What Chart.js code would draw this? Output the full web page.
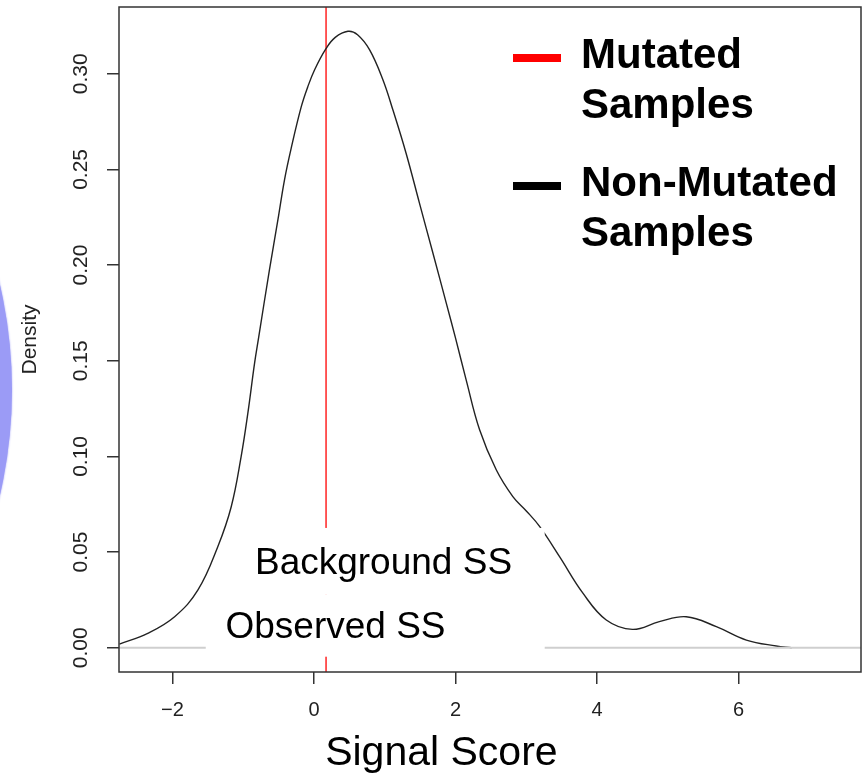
<!DOCTYPE html>
<html>
<head>
<meta charset="utf-8">
<title>Signal Score density</title>
<script src="https://cdn.jsdelivr.net/npm/chart.js@4.4.1/dist/chart.umd.min.js"></script>
<style>
  html, body { margin: 0; padding: 0; background: #fff; }
  canvas { display: block; }
</style>
</head>
<body>
<canvas id="chart" width="865" height="775"></canvas>
<script>
/* ─── Data ──────────────────────────────────────────────────────────────── */
const scoreX = [
  -2.75, -2.35, -1.97, -1.64, -1.36, -1.17, -1.03, -0.935, -0.84, -0.784,
  -0.63, -0.51, -0.417, -0.32, -0.18, -0.09, 0.007, 0.167, 0.30, 0.48,
  0.615, 0.784, 0.972, 1.114, 1.30, 1.49, 1.68, 1.87, 2.0, 2.15,
  2.34, 2.575, 2.81, 3.0, 3.19, 3.47, 3.80, 4.13, 4.50, 4.88,
  5.26, 5.685, 6.11, 6.53, 6.75
];
const densityY = [
  0.0019, 0.0075, 0.0162, 0.0302, 0.0528, 0.0737, 0.0999, 0.1226, 0.1487, 0.1618,
  0.1975, 0.2237, 0.2446, 0.2615, 0.2828, 0.293, 0.302, 0.313, 0.319, 0.3222,
  0.3204, 0.3126, 0.297, 0.2812, 0.2586, 0.2324, 0.2063, 0.180, 0.1618, 0.140,
  0.1139, 0.093, 0.079, 0.0715, 0.0633, 0.0476, 0.0285, 0.0145, 0.0096, 0.0136,
  0.0162, 0.011, 0.004, 0.0009, 0.0
];
const mutatedScore = 0.17;

const xTicks      = [-2, 0, 2, 4, 6];
const xTickLabels = ['\u22122', '0', '2', '4', '6'];
const yTicks      = [0, 0.05, 0.10, 0.15, 0.20, 0.25, 0.30];
const yTickLabels = ['0.00', '0.05', '0.10', '0.15', '0.20', '0.25', '0.30'];
const xRange = [-2.756, 7.73];
const yRange = [-0.0127, 0.3349];

const seriesNames = ['Mutated Samples', 'Non-Mutated Samples'];
const noteTexts   = ['Background SS', 'Observed SS'];

/* ─── Styling / placement ───────────────────────────────────────────────── */
const FONT = "'Liberation Sans', Arial, Helvetica, sans-serif";
Chart.defaults.font.family = FONT;

// white label panels, in data units
const notes = [
  { text: noteTexts[0], box: [-1.19, 3.26, 0.0276, 0.0626], at: [0.982, 0.0385] },
  { text: noteTexts[1], box: [-1.53, 3.26, -0.0047, 0.0276], at: [0.304, 0.0051] }
];

// Chart.js reserves room for tick label overflow; the R box sits tighter
function noOverflow(s) {
  s.paddingTop = 0; s.paddingBottom = 0; s.paddingLeft = 0; s.paddingRight = 0;
}

/* ─── Plugins ───────────────────────────────────────────────────────────── */
const backdrop = {
  id: 'backdrop',
  beforeDraw(chart) {
    const ctx = chart.ctx;
    ctx.save();
    ctx.fillStyle = '#fff';
    ctx.fillRect(0, 0, chart.width, chart.height);
    // lavender disc bleeding in from the left edge of the slide
    ctx.fillStyle = '#9b9bf6';
    ctx.shadowColor = '#9b9bf6';
    ctx.shadowBlur = 2;
    ctx.beginPath();
    ctx.arc(-453, 390, 465, 0, Math.PI * 2);
    ctx.fill();
    ctx.restore();
  }
};

const noteLabels = {
  id: 'noteLabels',
  afterDatasetsDraw(chart) {
    const { ctx, scales: { x, y } } = chart;
    ctx.save();
    notes.forEach(n => {
      const [x0, x1, y0, y1] = n.box;
      const l = x.getPixelForValue(x0), r = x.getPixelForValue(x1);
      const t = y.getPixelForValue(y1), b = y.getPixelForValue(y0);
      ctx.fillStyle = '#fff';
      ctx.fillRect(l, t, r - l, b - t);
    });
    ctx.fillStyle = '#000';
    ctx.font = `37px ${FONT}`;
    ctx.textAlign = 'center';
    ctx.textBaseline = 'alphabetic';
    notes.forEach(n => {
      ctx.fillText(n.text, x.getPixelForValue(n.at[0]), y.getPixelForValue(n.at[1]));
    });
    ctx.restore();
  }
};

const frameAndLegend = {
  id: 'frameAndLegend',
  afterDraw(chart) {
    const { ctx, chartArea: a, scales: { x } } = chart;
    ctx.save();
    // R style box round the plot region
    ctx.strokeStyle = '#333';
    ctx.lineWidth = 1.5;
    ctx.strokeRect(a.left, a.top, a.right - a.left, a.bottom - a.top);

    // legend, top right
    const items = [
      { name: seriesNames[0], colour: chart.data.datasets[2].borderColor, top: 0 },
      { name: seriesNames[1], colour: '#000', top: 128 }
    ];
    const keyX = a.left + 394, textX = a.left + 462;
    ctx.font = `bold 42px ${FONT}`;
    ctx.textAlign = 'left';
    ctx.textBaseline = 'alphabetic';
    items.forEach(it => {
      const base = a.top + 51 + it.top;
      ctx.fillStyle = it.colour;
      ctx.fillRect(keyX, base - 4, 48, 8);
      ctx.fillStyle = '#000';
      const words = it.name.split(' ');
      ctx.fillText(words[0], textX, base + 10);
      ctx.fillText(words[1], textX, base + 60);
    });

    // x axis title, placed as on the slide
    ctx.font = `41px ${FONT}`;
    ctx.textAlign = 'center';
    ctx.fillText('Signal Score', x.getPixelForValue(1.80), 765);
    ctx.restore();
  }
};

/* ─── Chart ─────────────────────────────────────────────────────────────── */
const curve = scoreX.map((v, i) => ({ x: v, y: densityY[i] }));

new Chart(document.getElementById('chart'), {
  type: 'line',
  data: {
    datasets: [
      {
        label: 'zero',
        data: [{ x: xRange[0], y: 0 }, { x: xRange[1], y: 0 }],
        borderColor: '#cfcfcf',
        borderWidth: 2,
        pointRadius: 0
      },
      {
        label: seriesNames[1],
        data: curve,
        borderColor: '#222',
        borderWidth: 1.4,
        pointRadius: 0,
        tension: 0.4
      },
      {
        label: seriesNames[0],
        data: [{ x: mutatedScore, y: yRange[0] }, { x: mutatedScore, y: yRange[1] }],
        borderColor: '#ff0000',
        borderWidth: 1.3,
        pointRadius: 0
      }
    ]
  },
  options: {
    responsive: false,
    animation: false,
    events: [],
    layout: { padding: { top: 7, right: 4, left: 0, bottom: 0 } },
    plugins: { legend: { display: false }, tooltip: { enabled: false } },
    scales: {
      x: {
        type: 'linear',
        min: xRange[0],
        max: xRange[1],
        afterFit: s => { s.height = 103; noOverflow(s); },
        afterBuildTicks: s => { s.ticks = xTicks.map(v => ({ value: v })); },
        border: { display: false },
        grid: { drawOnChartArea: false, drawTicks: true, tickLength: 12, color: '#333', lineWidth: 1.5 },
        ticks: {
          padding: 14,
          color: '#222',
          font: { size: 20 },
          maxRotation: 0,
          callback: v => xTickLabels[xTicks.indexOf(v)]
        }
      },
      y: {
        type: 'linear',
        min: yRange[0],
        max: yRange[1],
        afterFit: s => { s.width = 119; noOverflow(s); },
        afterBuildTicks: s => { s.ticks = yTicks.map(v => ({ value: v })); },
        border: { display: false },
        grid: { drawOnChartArea: false, drawTicks: true, tickLength: 12, color: '#333', lineWidth: 1.5 },
        ticks: {
          padding: 5,
          color: '#222',
          font: { size: 21 },
          minRotation: 90,
          maxRotation: 90,
          crossAlign: 'center',
          callback: v => yTickLabels[yTicks.indexOf(v)]
        },
        title: {
          display: true,
          text: 'Density',
          color: '#222',
          font: { size: 21 },
          padding: { top: 18, bottom: 0 }
        }
      }
    }
  },
  plugins: [backdrop, noteLabels, frameAndLegend]
});
</script>
</body>
</html>
